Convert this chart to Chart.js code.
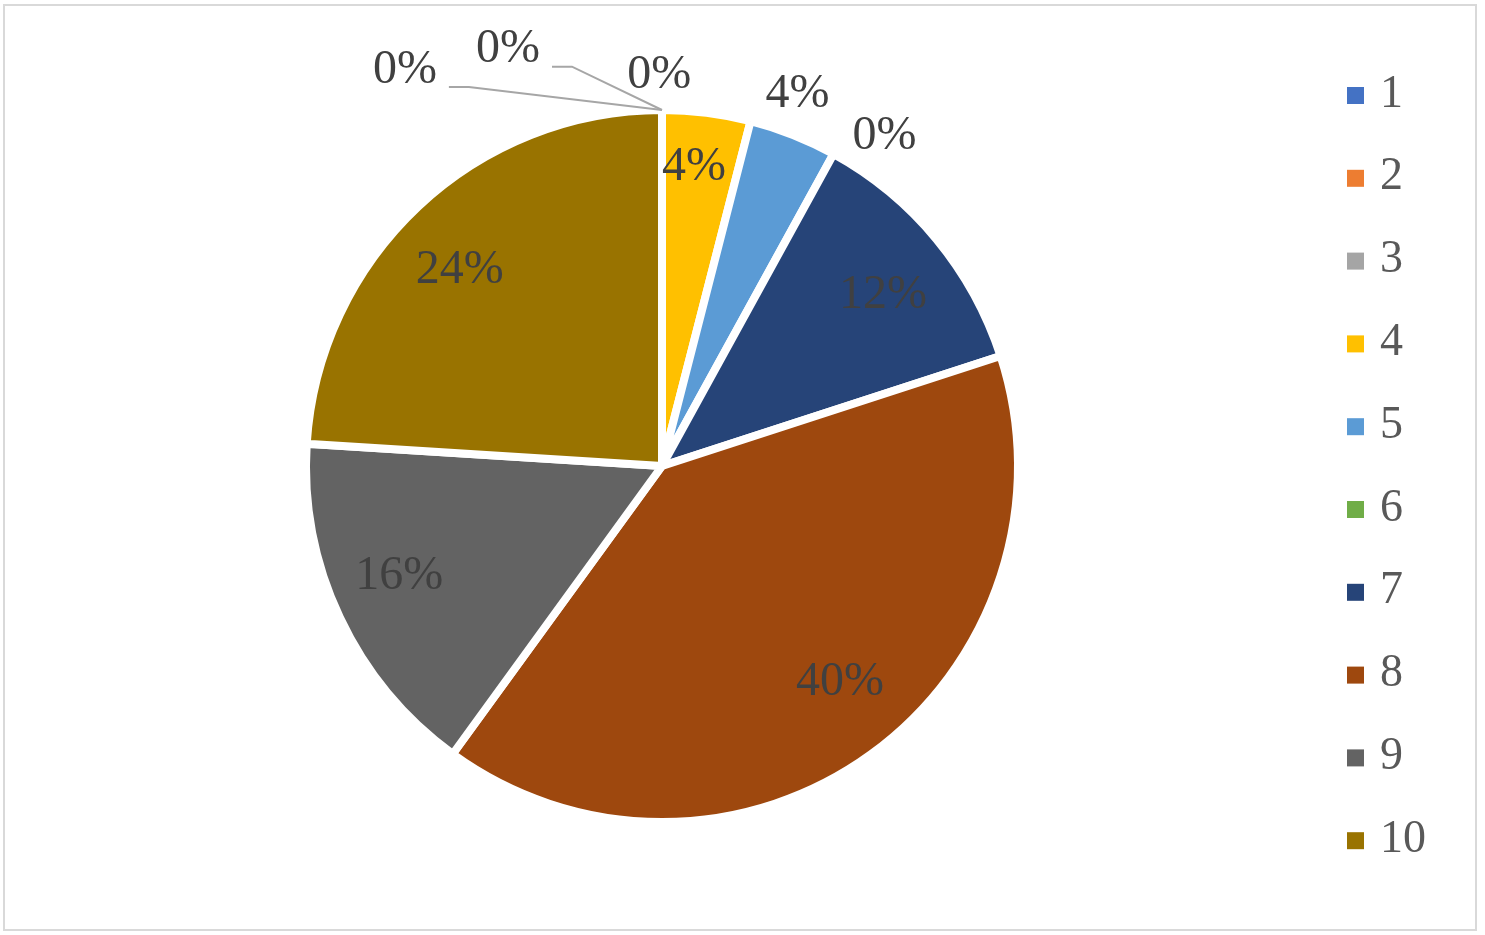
<!DOCTYPE html>
<html><head><meta charset="utf-8">
<style>html,body{margin:0;padding:0;background:#fff;}#wrap{width:1485px;height:935px;position:relative;}canvas{display:block;}</style>
<script src="https://cdn.jsdelivr.net/npm/chart.js@4/dist/chart.umd.min.js"></script>
</head><body><div id="wrap"><canvas id="c" width="1485" height="935"></canvas></div>
<script>
// ---- data ----
const categories = ['1','2','3','4','5','6','7','8','9','10'];
const counts = [0, 0, 0, 1, 1, 0, 3, 10, 4, 6];
const sliceColors = ['#4472C4','#ED7D31','#A5A5A5','#FFC000','#5B9BD5','#70AD47','#264478','#9E480E','#636363','#997300'];

// ---- label layout (angle shift in degrees from slice middle, radius factor) ----
const labelLayout = [
  {ang: -33,   rf: 1.326, leader: true},
  {ang: -20.3, rf: 1.247, leader: true},
  {ang: -0.4,  rf: 1.098},
  {ang: -1.1,  rf: 0.843},
  {ang: -1.6,  rf: 1.112},
  {ang: 5.2,   rf: 1.118},
  {ang: 1.9,   rf: 0.785},
  {ang: -3.5,  rf: 0.786},
  {ang: 2.5,   rf: 0.8},
  {ang: -2.7,  rf: 0.791}
];

const total = counts.reduce((a, b) => a + b, 0);
const pctLabels = counts.map(v => Math.round(v / total * 100) + '%');
const FONT = '"Liberation Serif", "Times New Roman", serif';

const frame = {
  id: 'frame',
  beforeDraw(chart) {
    const ctx = chart.ctx;
    ctx.save();
    ctx.fillStyle = '#fff';
    ctx.fillRect(0, 0, chart.width, chart.height);
    ctx.strokeStyle = '#d9d9d9';
    ctx.lineWidth = 2;
    ctx.strokeRect(4, 5, 1472, 925);
    ctx.restore();
  }
};

const labels = {
  id: 'pieLabels',
  afterDatasetsDraw(chart) {
    const ctx = chart.ctx;
    const meta = chart.getDatasetMeta(0);
    ctx.save();
    ctx.font = '48px ' + FONT;
    ctx.textAlign = 'center';
    ctx.textBaseline = 'middle';
    meta.data.forEach((arc, i) => {
      const p = arc.getProps(['x','y','startAngle','endAngle','outerRadius'], true);
      const lay = labelLayout[i];
      const mid = (p.startAngle + p.endAngle) / 2 + lay.ang * Math.PI / 180;
      const r = p.outerRadius * lay.rf;
      const lx = p.x + Math.cos(mid) * r;
      const ly = p.y + Math.sin(mid) * r;
      const txt = pctLabels[i];
      if (lay.leader) {
        const w = ctx.measureText(txt).width;
        const sx = lx + w / 2 + 12, sy = ly + 17;
        const m0 = (p.startAngle + p.endAngle) / 2;
        const ex = p.x + Math.cos(m0) * (p.outerRadius - 2);
        const ey = p.y + Math.sin(m0) * (p.outerRadius - 2) - 2;
        ctx.save();
        ctx.strokeStyle = '#a6a6a6';
        ctx.lineWidth = 2;
        ctx.beginPath();
        ctx.moveTo(sx, sy);
        ctx.lineTo(sx + 20, sy);
        ctx.lineTo(ex, ey);
        ctx.stroke();
        ctx.restore();
      }
      ctx.fillStyle = '#404040';
      ctx.fillText(txt, lx, ly);
    });
    ctx.restore();
  },
  afterDraw(chart) {
    // legend
    const ctx = chart.ctx;
    ctx.save();
    ctx.font = '46px ' + FONT;
    ctx.textAlign = 'left';
    ctx.textBaseline = 'middle';
    categories.forEach((c, i) => {
      const cy = 95.5 + i * 82.8;
      ctx.fillStyle = sliceColors[i];
      ctx.fillRect(1347, cy - 8.5, 17, 17);
      ctx.fillStyle = '#595959';
      ctx.fillText(c, 1380, cy - 1);
    });
    ctx.restore();
  }
};

new Chart(document.getElementById('c'), {
  type: 'pie',
  data: {
    labels: categories,
    datasets: [{
      data: counts,
      backgroundColor: sliceColors,
      borderColor: '#ffffff',
      borderWidth: 8,
      hoverBorderWidth: 8,
      hoverOffset: 0,
      offset: 0
    }]
  },
  options: {
    responsive: false,
    animation: false,
    devicePixelRatio: 1,
    events: [],
    layout: {padding: {left: 302, right: 463, top: 106, bottom: 109}},
    plugins: {legend: {display: false}, tooltip: {enabled: false}, title: {display: false}}
  },
  plugins: [frame, labels]
});
</script>
</body></html>
